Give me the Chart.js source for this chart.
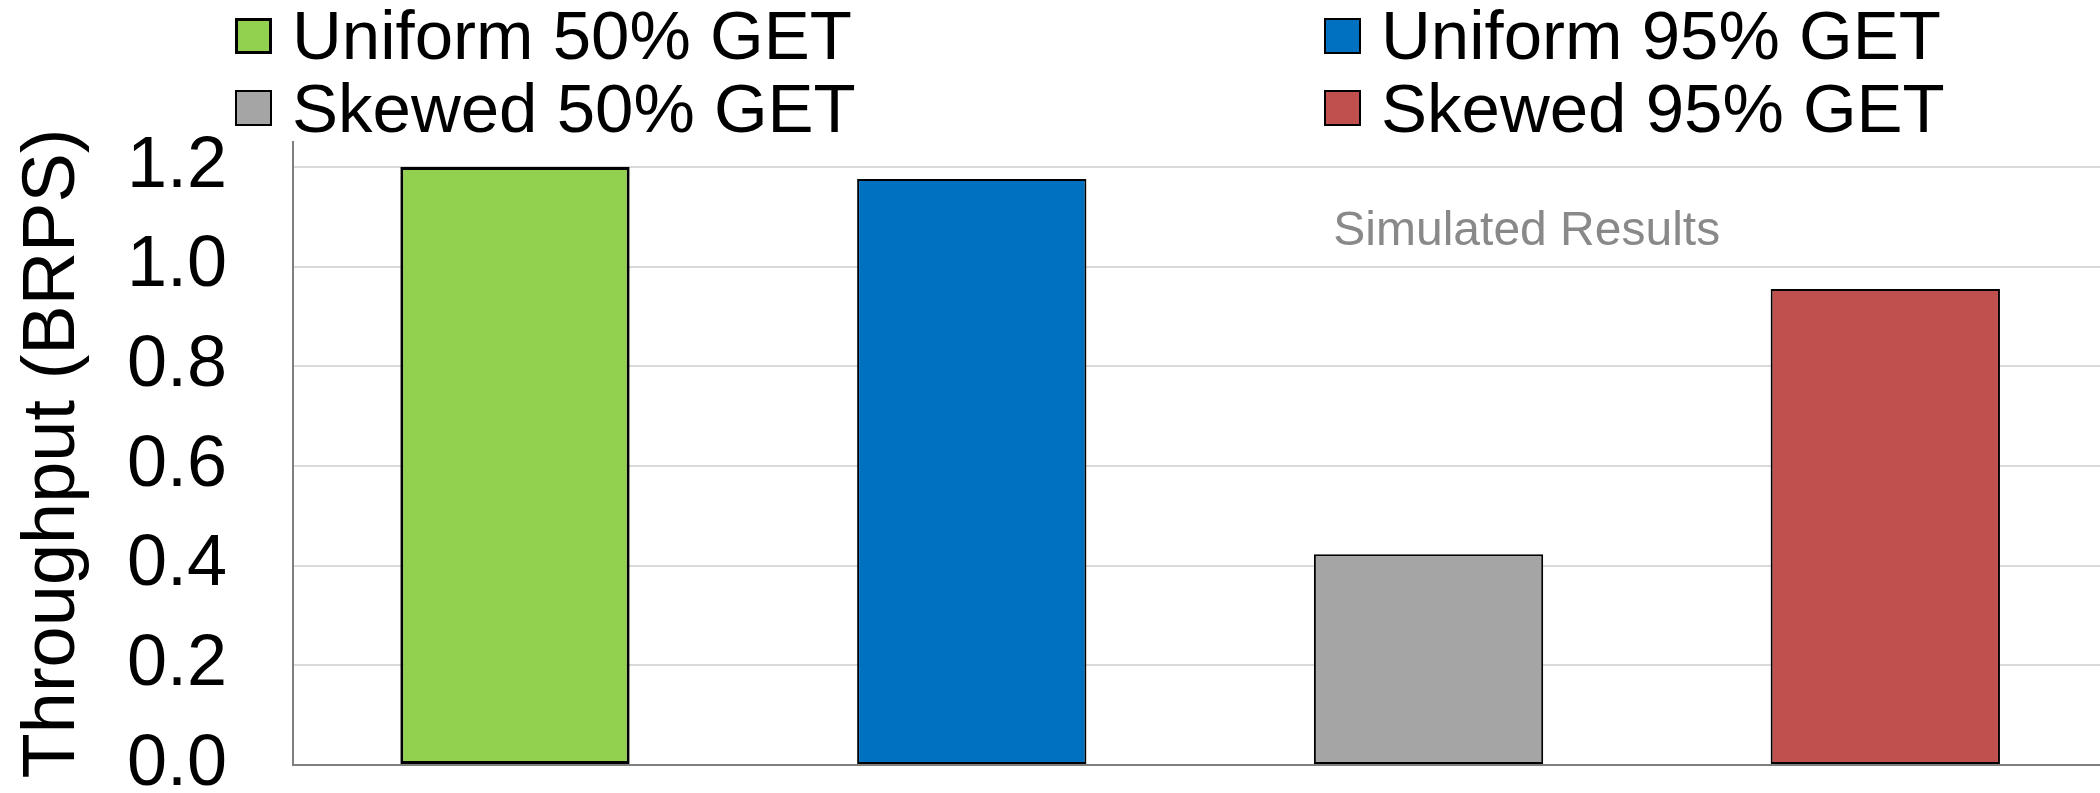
<!DOCTYPE html>
<html>
<head>
<meta charset="utf-8">
<script src="https://cdn.jsdelivr.net/npm/chart.js@4/dist/chart.umd.min.js"></script>
<style>
  html, body { margin: 0; padding: 0; background: #fff; }
  #wrap { position: relative; width: 2100px; height: 793px; overflow: hidden; }
  #c { position: absolute; left: 0; top: 0; }
  .lg-box { position: absolute; box-sizing: border-box; width: 37px; height: 36px; border: 2px solid #000; }
  .lg-text { position: absolute; white-space: nowrap; font-family: "Liberation Sans", Arial, sans-serif; font-size: 69px; line-height: 70px; color: #000; }
</style>
</head>
<body>
<div id="wrap">
  <canvas id="c" width="2100" height="793"></canvas>
  <div id="legend"></div>
</div>
<script>
// ---- data ----
const categories = ['Uniform 50% GET', 'Uniform 95% GET', 'Skewed 50% GET', 'Skewed 95% GET'];
const seriesLabels = ['Uniform 50% GET', 'Uniform 95% GET', 'Skewed 50% GET', 'Skewed 95% GET'];
const throughput = [1.2, 1.176, 0.423, 0.955];
const seriesColors = ['#92D050', '#0070C0', '#A5A5A5', '#C0504D'];
const yTickValues = [0, 0.2, 0.4, 0.6, 0.8, 1.0, 1.2];
const yAxisTitle = 'Throughput (BRPS)';
const noteText = 'Simulated Results';

const FONT = '"Liberation Sans", Arial, sans-serif';

const datasets = seriesLabels.map((lab, i) => ({
  label: lab,
  data: categories.map((c, j) => (j === i ? throughput[i] : null)),
  backgroundColor: seriesColors[i],
  borderColor: '#000000',
  borderWidth: i === 0 ? 3 : 2,
  borderSkipped: false,
  skipNull: true,
  categoryPercentage: 1.0,
  barPercentage: 0.502
}));

const notePlugin = {
  id: 'note',
  afterDatasetsDraw(chart) {
    const ctx = chart.ctx;
    const x = chart.scales.x.getPixelForValue(2.215);
    const y = chart.scales.y.getPixelForValue(1.07);
    ctx.save();
    ctx.font = '48px ' + FONT;
    ctx.fillStyle = '#898989';
    ctx.textAlign = 'center';
    ctx.textBaseline = 'middle';
    ctx.fillText(noteText, x, y);
    ctx.restore();
  }
};

const chart = new Chart(document.getElementById('c'), {
  type: 'bar',
  data: { labels: categories, datasets },
  options: {
    responsive: false,
    animation: false,
    devicePixelRatio: 1,
    layout: { padding: { top: 142, bottom: 28, left: 0, right: 0 } },
    plugins: { legend: { display: false }, tooltip: { enabled: false } },
    scales: {
      x: {
        offset: false,
        grid: { display: false },
        border: { display: true, color: '#7F7F7F', width: 2 },
        ticks: { display: false },
        // category range extends slightly past the plot edges, as in the original
        afterBuildTicks: (scale) => { scale._startValue = -0.486; scale._valueRange = 3.956; },
        afterFit: (scale) => { scale.height = 0; scale.paddingLeft = 0; scale.paddingRight = 0; }
      },
      y: {
        min: 0,
        max: 1.25,
        afterBuildTicks: (scale) => { scale.ticks = yTickValues.map(v => ({ value: v })); },
        afterFit: (scale) => { scale.width = 293; scale.paddingTop = 0; scale.paddingBottom = 0; },
        ticks: {
          callback: (v) => Number(v).toFixed(1),
          font: { family: FONT, size: 72, lineHeight: 0.8 },
          color: '#000',
          padding: 66
        },
        grid: { color: '#D9D9D9', lineWidth: 2, drawTicks: false },
        border: { display: true, color: '#7F7F7F', width: 2 },
        title: {
          display: true,
          text: yAxisTitle,
          font: { family: FONT, size: 74 },
          color: '#000',
          padding: { top: 9, bottom: 4 }
        }
      }
    }
  },
  plugins: [notePlugin]
});

// ---- HTML legend built from the chart's datasets ----
const legendEl = document.getElementById('legend');
const colBoxX = [235, 1324];
const rowBoxY = [18, 90];
const rowTextY = [1, 74];
chart.data.datasets.forEach((ds, i) => {
  const col = i % 2, row = Math.floor(i / 2);
  const box = document.createElement('div');
  box.className = 'lg-box';
  box.style.left = colBoxX[col] + 'px';
  box.style.top = rowBoxY[row] + 'px';
  box.style.background = ds.backgroundColor;
  if (i === 0) box.style.borderWidth = '3px';
  legendEl.appendChild(box);
  const t = document.createElement('div');
  t.className = 'lg-text';
  t.style.left = (colBoxX[col] + 57) + 'px';
  t.style.top = rowTextY[row] + 'px';
  t.textContent = ds.label;
  legendEl.appendChild(t);
});
</script>
</body>
</html>
